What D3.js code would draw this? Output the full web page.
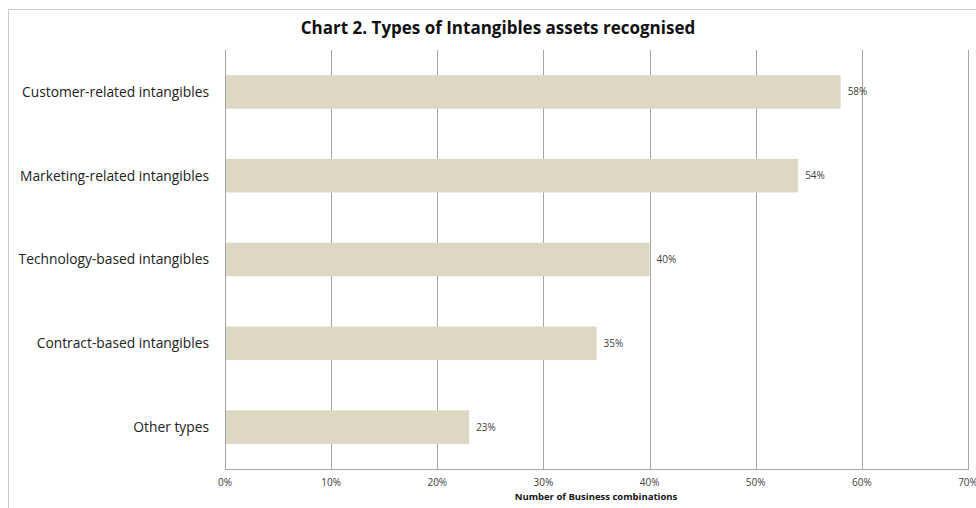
<!DOCTYPE html>
<meta charset="utf-8">
<style>
  body { margin: 0; background: #fff; }
  svg { display: block; font-family: "Open Sans", sans-serif; }
</style>
<svg width="976" height="508"></svg>
<script src="https://d3js.org/d3.v7.min.js"></script>
<script>
var categories = ["Customer-related intangibles", "Marketing-related intangibles",
                  "Technology-based intangibles", "Contract-based intangibles", "Other types"];
var values = [58, 54, 40, 35, 23];
var ticks = [0, 10, 20, 30, 40, 50, 60, 70];

var svg = d3.select("svg"),
    plotLeft = 225, plotRight = 968, plotTop = 50, plotBottom = 469;

// outer chart frame (top + left edges visible)
svg.append("path")
    .attr("d", "M8.5,508V9.5H976")
    .attr("fill", "none")
    .attr("stroke", "#c8c8c8");

var x = d3.scaleLinear().domain([0, 70]).range([plotLeft, plotRight]);
var y = d3.scaleBand().domain(categories).range([plotTop, plotBottom]).paddingInner(0.6).paddingOuter(0.3);

// gridlines
svg.append("g").selectAll("line")
  .data(ticks)
  .join("line")
    .attr("x1", d => Math.round(x(d)) + 0.5)
    .attr("x2", d => Math.round(x(d)) + 0.5)
    .attr("y1", plotTop)
    .attr("y2", plotBottom)
    .attr("stroke", "#a6a6a6");

// bottom axis line
svg.append("line")
    .attr("x1", plotLeft).attr("x2", plotRight + 1)
    .attr("y1", plotBottom + 0.5).attr("y2", plotBottom + 0.5)
    .attr("stroke", "#a6a6a6");

// bars
svg.append("g").selectAll("rect")
  .data(values)
  .join("rect")
    .attr("x", x(0) + 1)
    .attr("y", (d, i) => y(categories[i]))
    .attr("width", d => x(d) - x(0) - 1)
    .attr("height", y.bandwidth())
    .attr("fill", "#ddd8c4");

// value labels
svg.append("g").selectAll("text")
  .data(values)
  .join("text")
    .attr("x", d => x(d) + 7)
    .attr("y", (d, i) => y(categories[i]) + y.bandwidth() / 2)
    .attr("dy", "0.35em")
    .attr("font-size", 10)
    .attr("fill", "#404040")
    .text(d => d + "%");

// category labels
svg.append("g").selectAll("text")
  .data(categories)
  .join("text")
    .attr("x", 209)
    .attr("y", d => y(d) + y.bandwidth() / 2)
    .attr("dy", "0.35em")
    .attr("text-anchor", "end")
    .attr("font-size", 13.8)
    .attr("fill", "#222")
    .text(d => d);

// tick labels
svg.append("g").selectAll("text")
  .data(ticks)
  .join("text")
    .attr("x", d => x(d))
    .attr("y", 486)
    .attr("text-anchor", "middle")
    .attr("font-size", 10)
    .attr("fill", "#404040")
    .text(d => d + "%");

svg.append("text")
    .attr("x", 596)
    .attr("y", 500)
    .attr("text-anchor", "middle")
    .attr("font-size", 9.5)
    .attr("font-weight", "bold")
    .attr("fill", "#111")
    .text("Number of Business combinations");

svg.append("text")
    .attr("x", 498)
    .attr("y", 34)
    .attr("text-anchor", "middle")
    .attr("font-size", 17)
    .attr("font-weight", "bold")
    .attr("fill", "#111")
    .text("Chart 2. Types of Intangibles assets recognised");
</script>
